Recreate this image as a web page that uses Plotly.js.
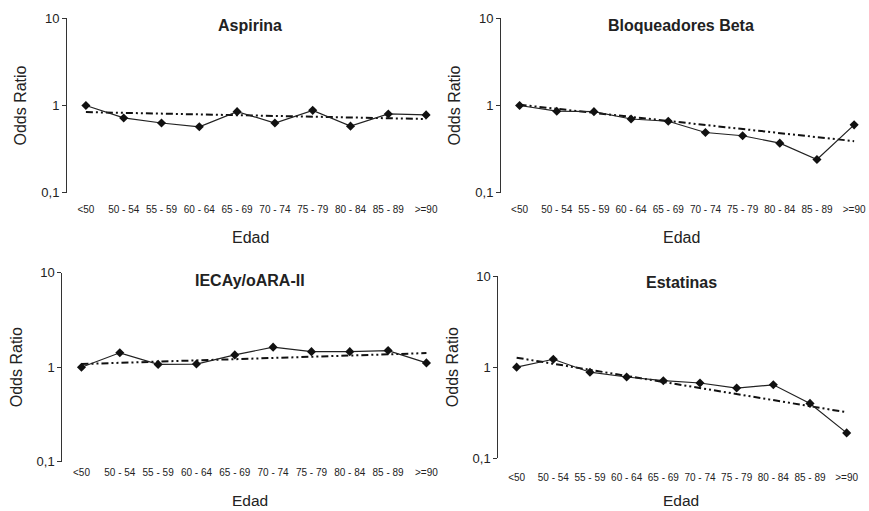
<!DOCTYPE html>
<html>
<head>
<meta charset="utf-8">
<script src="https://cdn.plot.ly/plotly-3.0.1.min.js"></script>
<style>html,body{margin:0;padding:0;background:#fff;}#chart{width:869px;height:511px;}</style>
</head>
<body>
<div id="chart"></div>
<script>
const edades = ['<50','50 - 54','55 - 59','60 - 64','65 - 69','70 - 74','75 - 79','80 - 84','85 - 89','>=90'];
const titulos = ['Aspirina','Bloqueadores Beta','IECAy/oARA-II','Estatinas'];
const aspirina = [1.0, 0.72, 0.63, 0.57, 0.85, 0.63, 0.88, 0.58, 0.80, 0.78];
const bloqueadores = [1.0, 0.86, 0.85, 0.70, 0.66, 0.49, 0.45, 0.37, 0.24, 0.60];
const ieca = [1.0, 1.42, 1.07, 1.08, 1.35, 1.63, 1.46, 1.46, 1.50, 1.11];
const estatinas = [1.0, 1.22, 0.88, 0.78, 0.71, 0.67, 0.59, 0.64, 0.40, 0.19];
// tendencia: valores en el primer y último grupo de edad
const tendAspirina = [0.84, 0.70];
const tendBloqueadores = [1.02, 0.39];
const tendIeca = [1.08, 1.41];
const tendEstatinas = [1.27, 0.32];
const yTickVals = [0.1, 1, 10];
const yTickText = ['0,1', '1', '10'];

const W = 869, H = 511;
const series = [aspirina, bloqueadores, ieca, estatinas];
const tends = [tendAspirina, tendBloqueadores, tendIeca, tendEstatinas];
// panel geometry in pixels
const panels = [
  {l: 67, r: 445, t: 18.3, b: 192.7, xmax: 9.5, tickY: 209, edadY: 237, titleX: 250, titleY: 25},
  {l: 501, r: 869, t: 18.3, b: 192.7, xmax: 9.4, tickY: 209, edadY: 237, titleX: 681, titleY: 25},
  {l: 62.3, r: 445.6, t: 272.7, b: 461.7, xmax: 9.5, tickY: 470, edadY: null, titleX: 250, titleY: 280},
  {l: 498.3, r: 865, t: 276, b: 458.3, xmax: 9.5, tickY: 477, edadY: null, titleX: 681, titleY: 282}
];
const FONT = 'Liberation Sans, Arial, Helvetica, sans-serif';
const data = [];
const layout = {
  width: W, height: H,
  margin: {l: 0, r: 0, t: 0, b: 0},
  paper_bgcolor: '#fff', plot_bgcolor: 'rgba(0,0,0,0)',
  showlegend: false,
  font: {family: FONT, color: '#222'},
  annotations: []
};
panels.forEach((p, i) => {
  const n = i + 1;
  const xa = 'x' + (n === 1 ? '' : n), ya = 'y' + (n === 1 ? '' : n);
  const xk = 'xaxis' + (n === 1 ? '' : n), yk = 'yaxis' + (n === 1 ? '' : n);
  data.push({
    x: [edades[0], edades[edades.length - 1]], y: tends[i], xaxis: xa, yaxis: ya,
    type: 'scatter', mode: 'lines',
    line: {color: '#111', width: 2, dash: '7px,3px,2px,3px,2px,3px'}
  });
  data.push({
    x: edades, y: series[i], xaxis: xa, yaxis: ya,
    type: 'scatter', mode: 'lines+markers',
    line: {color: '#222', width: 1.2},
    marker: {symbol: 'diamond', size: 7, color: '#111'}
  });
  layout[xk] = {
    domain: [p.l / W, p.r / W],
    anchor: ya, type: 'category', categoryorder: 'array', categoryarray: edades,
    range: [-0.5, p.xmax],
    showline: false, showgrid: false, zeroline: false,
    ticks: 'outside', ticklen: Math.max(1, p.tickY - p.b - 9), tickcolor: 'rgba(0,0,0,0)',
    tickfont: {size: 10, family: FONT, color: '#222'},
    title: {text: ''},
    automargin: false, fixedrange: true
  };
  layout[yk] = {
    domain: [(H - p.b) / H, (H - p.t) / H],
    anchor: xa, type: 'log', range: [-1, 1],
    tickvals: yTickVals, ticktext: yTickText,
    showline: true, linecolor: '#333', linewidth: 1,
    ticks: 'outside', ticklen: 4, tickcolor: '#333', tickwidth: 1,
    showgrid: false, zeroline: false,
    tickfont: {size: 13, family: FONT, color: '#222'},
    title: {text: 'Odds Ratio', font: {size: 16, family: FONT, color: '#222'}, standoff: 10},
    automargin: false, fixedrange: true
  };
  layout.annotations.push({
    text: '<b>' + titulos[i] + '</b>', xref: 'paper', yref: 'paper',
    x: p.titleX / W, y: (H - p.titleY) / H, xanchor: 'center', yanchor: 'middle',
    showarrow: false, font: {size: 16, family: FONT, color: '#222'}
  });
  const edadAnn = {
    text: 'Edad', xref: 'paper', yref: 'paper',
    x: p.titleX / W, xanchor: 'center',
    showarrow: false, font: {size: 16, family: FONT, color: '#222'}
  };
  if (p.edadY === null) { edadAnn.y = 0; edadAnn.yanchor = 'bottom'; edadAnn.font.size = 15.5; }
  else { edadAnn.y = (H - p.edadY) / H; edadAnn.yanchor = 'middle'; }
  layout.annotations.push(edadAnn);
});
Plotly.newPlot('chart', data, layout, {displayModeBar: false, staticPlot: true});
</script>
</body>
</html>
